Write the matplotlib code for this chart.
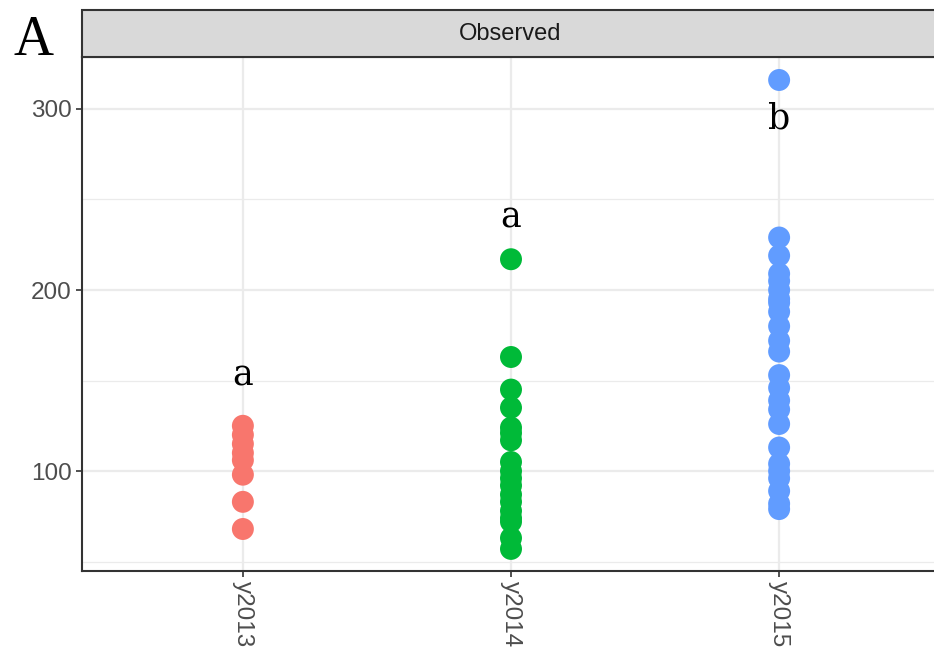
import numpy as np
import matplotlib
matplotlib.use("Agg")
import matplotlib.pyplot as plt
from matplotlib.patches import Rectangle

# --- data ---
groups = ["y2013", "y2014", "y2015"]
colors = ["#F8766D", "#00BA38", "#619CFF"]

obs_2013 = [125, 120, 115, 110, 106, 98, 83, 68]
obs_2014 = [217, 163, 145, 135, 124, 121, 117, 105, 100, 96, 92, 87, 83,
            78, 74, 72, 63, 57]
obs_2015 = [316, 229, 219, 209, 205, 200, 195, 193, 188, 180, 172, 166,
            153, 146, 139, 134, 126, 113, 104, 100, 96, 89, 82, 79]
observed = [obs_2013, obs_2014, obs_2015]

letters = ["a", "a", "b"]
letter_y = [153, 240, 295]

W, H = 934, 659
fig = plt.figure(figsize=(W / 100, H / 100), dpi=100)

# panel spans past the right edge like the cropped original
ax = fig.add_axes([82 / W, (H - 571) / H, (940 - 82) / W, (571 - 57) / H])

for i, (vals, c) in enumerate(zip(observed, colors)):
    ax.scatter(np.full(len(vals), i + 1), vals, s=250, color=c,
               edgecolors="none", zorder=3)

for i, (lab, y) in enumerate(zip(letters, letter_y)):
    ax.text(i + 1, y, lab, ha="center", va="center", fontsize=25,
            family="DejaVu Serif", color="black", zorder=4)

ax.set_xlim(0.4, 3.6)
ax.set_ylim(44.8, 328.7)
ax.set_xticks([1, 2, 3])
ax.set_xticklabels(groups, rotation=270, va="top", ha="center")
ax.set_yticks([100, 200, 300])
ax.set_yticks([50, 150, 250], minor=True)

ax.grid(True, which="major", color="#EBEBEB", lw=1.6, zorder=0)
ax.grid(True, which="minor", axis="y", color="#EBEBEB", lw=0.9, zorder=0)
ax.set_axisbelow(True)
ax.tick_params(which="minor", length=0)
ax.tick_params(which="major", length=4, width=1.2, color="#333333",
               labelsize=17.5, labelcolor="#4D4D4D", pad=3.5)
for lab in ax.get_xticklabels() + ax.get_yticklabels():
    lab.set_family("Liberation Sans")

for s in ["left", "bottom", "top"]:
    ax.spines[s].set_color("#333333")
    ax.spines[s].set_linewidth(1.5)
ax.spines["right"].set_visible(False)

# facet strip
strip = Rectangle((82 / W, (H - 57) / H), (940 - 82) / W, (57 - 10) / H,
                  transform=fig.transFigure, facecolor="#D9D9D9",
                  edgecolor="#333333", lw=1.5, clip_on=False)
fig.patches.append(strip)
fig.text(510 / W, (H - 33.5) / H, "Observed", ha="center", va="center",
         fontsize=17, family="Liberation Sans", color="#1A1A1A")

fig.text(13 / W, (H - 41) / H, "A", ha="left", va="center", fontsize=40,
         family="Liberation Serif", color="black")

fig.savefig("out.png", dpi=100)
